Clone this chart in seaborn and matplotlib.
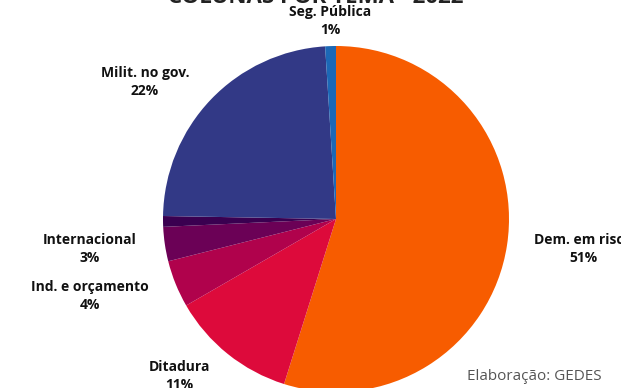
import matplotlib
matplotlib.use("Agg")
import matplotlib.pyplot as plt
import seaborn as sns

sns.set_theme(style="white")
plt.rcParams['font.family'] = ['Open Sans', 'DejaVu Sans']

categories = ["Dem. em risco", "Ditadura", "Ind. e orçamento", "Internacional",
              "Outros", "Milit. no gov.", "Seg. Pública"]
shares = [54.8, 11.8, 4.4, 3.2, 1.0, 23.7, 1.0]
pct_labels = ["51%", "11%", "4%", "3%", "", "22%", "1%"]
colors = ["#F75C00", "#DD0A3B", "#B0024C", "#6B0156", "#3A0050", "#323986", "#1C68B6"]

W, H = 621, 388
fig = plt.figure(figsize=(W / 100, H / 100), dpi=100)
ax = fig.add_axes([0, 0, 1, 1])

cx, cy, r = 336, H - 219, 173
ax.pie(shares, colors=colors, startangle=90, counterclock=False,
       center=(cx, cy), radius=r, frame=True,
       wedgeprops=dict(linewidth=0))
ax.set_xlim(0, W)
ax.set_ylim(0, H)
ax.set_aspect("equal")
ax.axis("off")

label_pos = {
    "Dem. em risco": (583, H - 240),
    "Ditadura": (179, H - 367),
    "Ind. e orçamento": (90, H - 287),
    "Internacional": (90, H - 240),
    "Milit. no gov.": (145, H - 73),
    "Seg. Pública": (330, H - 12),
}
for cat, pl in zip(categories, pct_labels):
    if cat not in label_pos:
        continue
    x, y = label_pos[cat]
    ax.text(x, y, cat, ha="center", va="center", fontsize=10,
            fontweight="bold", color="#111111")
    ax.text(x, y - 18, pl, ha="center", va="center", fontsize=10,
            fontweight="bold", color="#111111")

ax.text(316, H - 3, "COLUNAS POR TEMA - 2022", ha="center", va="baseline",
        fontsize=16, fontweight="bold", color="#222222", clip_on=False)

ax.text(534, H - 376, "Elaboração: GEDES", ha="center", va="center",
        fontsize=11, color="#555555")

fig.savefig("out.png", dpi=100)
